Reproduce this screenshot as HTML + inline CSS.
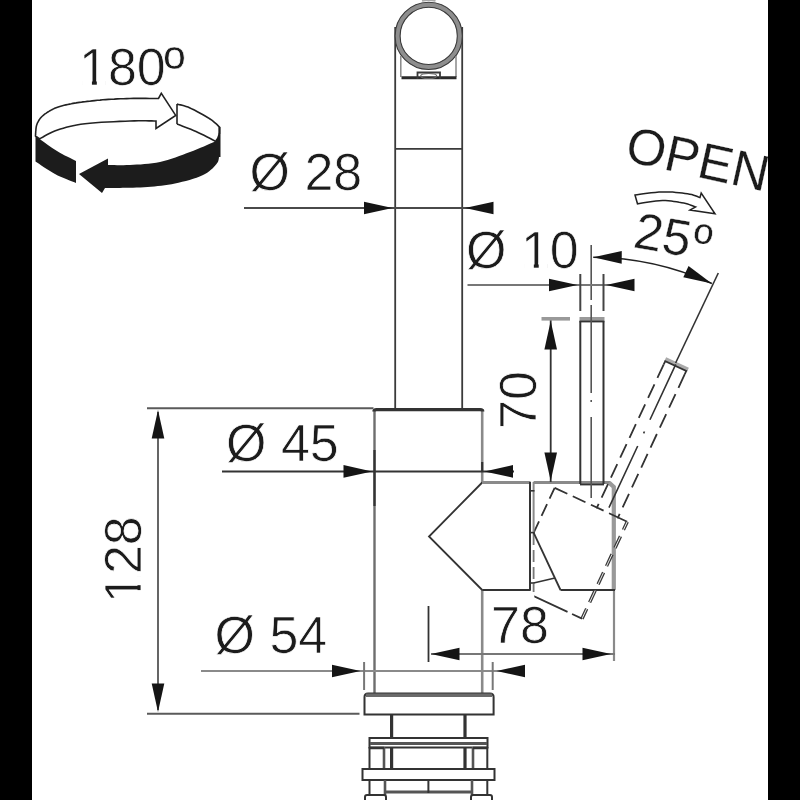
<!DOCTYPE html>
<html><head><meta charset="utf-8">
<style>
html,body{margin:0;padding:0;background:#fff;width:800px;height:800px;overflow:hidden}
svg{display:block}
text{font-family:"Liberation Sans",sans-serif;fill:#1c1c1c}
</style></head><body>
<svg width="800" height="800" viewBox="0 0 800 800">
<rect x="0" y="0" width="800" height="800" fill="#fff"/>
<path d="M35.5,133.0 37.5,136.0 37.6,136.2 37.5,136.3 37.5,136.4 37.5,136.6 37.6,136.9 38.0,137.4 38.6,138.0 39.6,138.8 41.0,139.9 42.8,141.2 44.9,142.8 47.2,144.5 49.7,146.2 52.2,147.9 54.6,149.5 57.0,151.0 59.4,152.4 62.1,153.9 64.8,155.4 67.6,156.8 70.2,158.1 72.5,159.3 74.5,160.2 76.0,161.0 76.0,183.0 74.4,182.3 72.2,181.5 69.6,180.4 66.7,179.3 63.7,178.0 60.6,176.7 57.7,175.4 55.0,174.0 52.4,172.5 49.6,170.8 46.7,169.0 43.9,167.2 41.3,165.4 39.0,163.8 37.0,162.5 35.5,161.5 Z" fill="#1c1c1c"/>
<path d="M108.0,158.4 108.0,165.0 109.6,165.0 111.8,165.1 114.3,165.1 117.1,165.2 120.2,165.2 123.4,165.2 126.7,165.1 130.0,165.0 133.4,164.8 136.9,164.6 140.7,164.4 144.5,164.1 148.4,163.8 152.3,163.3 156.2,162.7 160.0,162.0 163.8,161.1 167.6,160.0 171.5,158.8 175.4,157.4 179.2,156.1 182.9,154.7 186.5,153.3 190.0,152.0 193.5,150.7 197.0,149.3 200.5,147.8 203.9,146.4 207.0,145.0 209.8,143.8 212.2,142.8 214.0,142.0 217.0,138.0 219.5,131.0 219.5,150.0 219.5,150.4 219.5,151.0 219.5,151.7 219.5,152.5 219.5,153.3 219.5,154.2 219.4,155.1 219.2,156.0 219.0,156.9 218.9,157.8 218.8,158.8 218.6,159.8 218.3,160.9 217.9,162.0 217.2,163.1 216.3,164.3 215.2,165.6 213.9,166.9 212.5,168.4 210.9,169.8 209.2,171.3 207.2,172.7 205.0,174.0 202.5,175.3 199.7,176.5 196.6,177.7 193.2,178.8 189.6,179.9 185.9,180.9 182.2,181.8 178.5,182.7 175.0,183.5 171.6,184.2 168.1,184.8 164.7,185.3 161.2,185.7 157.8,186.1 154.4,186.4 150.9,186.7 147.5,187.0 144.0,187.2 140.3,187.4 136.6,187.6 133.0,187.7 129.4,187.7 126.0,187.8 122.8,187.8 120.0,187.9 117.4,188.0 115.0,188.0 112.8,188.0 110.8,188.0 109.0,188.0 107.4,188.0 106.1,188.0 105.0,188.0 102.0,193.0 79.0,174.0 Z" fill="#1c1c1c"/>
<path d="M35.5,136.0 35.5,135.6 35.5,135.1 35.6,134.6 35.6,133.9 35.6,133.2 35.7,132.5 35.7,131.7 35.8,131.0 35.9,130.3 35.9,129.5 36.0,128.7 36.1,127.8 36.2,127.0 36.4,126.1 36.6,125.3 36.9,124.4 37.2,123.5 37.6,122.7 38.1,121.8 38.6,120.9 39.1,120.0 39.7,119.1 40.3,118.3 41.0,117.5 41.7,116.7 42.5,116.0 43.3,115.3 44.1,114.6 45.0,113.9 45.9,113.3 46.9,112.6 47.9,112.0 48.9,111.4 50.0,110.7 51.1,110.1 52.3,109.5 53.5,108.9 54.7,108.3 56.1,107.7 57.5,107.2 59.0,106.7 60.7,106.2 62.4,105.7 64.1,105.3 65.9,104.9 67.8,104.5 69.6,104.1 71.3,103.8 73.0,103.4 74.6,103.1 76.1,102.9 77.7,102.6 79.4,102.4 81.1,102.2 83.0,101.9 85.0,101.7 87.2,101.4 89.6,101.2 92.1,100.9 94.6,100.6 97.3,100.3 100.0,100.1 102.8,99.8 105.6,99.6 108.4,99.4 111.3,99.2 114.3,99.1 117.3,98.9 120.4,98.8 123.5,98.7 126.7,98.6 130.0,98.5 133.6,98.4 137.5,98.4 141.6,98.4 145.8,98.4 149.7,98.5 153.3,98.5 156.3,98.5 158.5,98.5 161.3,93.4 175.7,115.4 156.0,128.5 156.0,121.0 154.1,121.0 151.8,120.9 149.0,120.9 145.8,120.8 142.3,120.8 138.4,120.8 134.3,120.9 130.0,121.0 125.2,121.2 119.7,121.4 113.7,121.7 107.6,122.0 101.4,122.3 95.5,122.7 89.9,123.2 85.0,123.7 80.7,124.3 76.7,125.0 73.0,125.7 69.6,126.5 66.3,127.3 63.3,128.2 60.4,129.1 57.5,130.0 54.7,131.0 51.9,132.2 49.3,133.5 46.8,134.8 44.6,136.0 42.6,137.2 40.9,138.1 39.6,138.8 Z" fill="#fff" stroke="#222" stroke-width="1.6" stroke-linejoin="miter"/>
<path d="M177.0,104.0 178.0,104.3 179.2,104.6 180.6,104.9 182.2,105.3 184.0,105.8 186.0,106.4 188.0,107.1 190.0,108.0 192.2,109.1 194.8,110.3 197.4,111.7 200.2,113.2 203.0,114.8 205.6,116.3 208.0,117.7 210.0,119.0 211.8,120.2 213.3,121.4 214.7,122.6 216.0,123.7 217.1,124.7 218.0,125.6 218.8,126.4 219.5,127.0 219.5,134.0 M177.0,124.0 178.5,124.6 180.4,125.3 182.7,126.2 185.3,127.2 188.0,128.2 190.8,129.3 193.5,130.4 196.0,131.5 198.5,132.7 201.2,134.0 204.0,135.3 206.7,136.7 209.3,138.0 211.6,139.2 213.5,140.3 215.0,141.0 M177,104 L177,124" fill="none" stroke="#222" stroke-width="1.6"/>
<line x1="219.5" y1="127" x2="219.5" y2="157" stroke="#1c1c1c" stroke-width="2"/>
<path d="M635.0,195.0 637.1,194.7 640.0,194.3 643.4,193.8 647.2,193.3 651.2,192.8 655.2,192.4 659.0,192.1 662.5,191.9 665.8,191.9 669.2,192.0 672.6,192.1 675.9,192.4 679.2,192.7 682.2,193.0 685.0,193.4 687.5,193.8 689.7,194.2 691.8,194.6 693.7,195.2 695.3,195.7 696.8,196.3 698.0,196.8 699.1,197.2 700.0,197.5 701.2,193.1 715.0,213.8 690.0,210.0 695.6,206.9 694.8,206.6 693.7,206.2 692.4,205.7 691.0,205.2 689.4,204.6 687.7,204.0 685.8,203.5 683.8,203.1 681.6,202.7 679.2,202.3 676.6,201.8 673.9,201.4 671.2,201.1 668.3,200.8 665.4,200.6 662.5,200.6 659.4,200.7 655.9,201.1 652.3,201.5 648.7,202.0 645.2,202.6 642.1,203.1 639.5,203.5 637.5,203.8 Z" fill="#fff" stroke="#222" stroke-width="1.5" stroke-linejoin="miter"/>
<g transform="translate(79,85)"><text x="0" y="0" font-size="52" fill="#1c1c1c" stroke="#fff" stroke-width="0.7">180<tspan font-size="58.2" dx="-2" dy="2.5">º</tspan></text><rect x="3.55" y="-4.66" width="9.37" height="5.26" fill="#fff"/><rect x="17.82" y="-4.66" width="8.84" height="5.26" fill="#fff"/></g>
<g fill="none" stroke="#3a3a3a" stroke-width="1.8">
  <line x1="395.2" y1="27" x2="395.2" y2="409"/>
  <line x1="462.2" y1="27" x2="462.2" y2="409"/>
  <line x1="395" y1="148.8" x2="462.5" y2="148.8"/>
  <circle cx="428.7" cy="35.9" r="31.1" stroke="#8e8e8e" stroke-width="5.2"/>
  <circle cx="428.7" cy="35.9" r="33.6" stroke="#3a3a3a" stroke-width="1.1"/>
  <circle cx="428.7" cy="35.9" r="28.6" stroke="#3a3a3a" stroke-width="1.1"/>
  <line x1="400.8" y1="56" x2="400.8" y2="77" stroke="#888" stroke-width="1.5"/>
  <line x1="456" y1="56" x2="456" y2="77" stroke="#888" stroke-width="1.5"/>
  <line x1="401.5" y1="77.8" x2="456.5" y2="77.8" stroke-width="3" stroke="#2a2a2a"/>
  <path d="M417.5 79 L417.5 72.5 L440 72.5 L440 79" stroke-width="1.8"/>
  <ellipse cx="428.7" cy="76" rx="8" ry="2.5" stroke="#666" stroke-width="1.2"/>
  <path d="M422 0.8 Q428.7 -0.8 435.5 0.8" stroke="#aaa" stroke-width="2"/>
</g>
<g transform="translate(249.5,190)"><text x="0" y="0" font-size="52" fill="#1c1c1c" stroke="#fff" stroke-width="0.7">Ø 28</text></g>
<line x1="244" y1="208" x2="395" y2="208" stroke="#4a4a4a" stroke-width="2" />
<line x1="462" y1="208" x2="493" y2="208" stroke="#4a4a4a" stroke-width="2" />
<line x1="395" y1="208" x2="462" y2="208" stroke="#4a4a4a" stroke-width="2" />
<path d="M392.50 208.00 L364.00 214.30 L364.00 201.70 Z" fill="#151515"/>
<path d="M465.00 208.00 L493.50 201.70 L493.50 214.30 Z" fill="#151515"/>
<line x1="374.5" y1="409" x2="374.5" y2="693" stroke="#6e6e6e" stroke-width="2.4" />
<line x1="374.5" y1="450" x2="374.5" y2="506" stroke="#333" stroke-width="2.2" />
<line x1="482.2" y1="409" x2="482.2" y2="483" stroke="#8a8a8a" stroke-width="2.6" />
<line x1="482.2" y1="590" x2="482.2" y2="693" stroke="#8a8a8a" stroke-width="2.6" />
<line x1="482.2" y1="462" x2="482.2" y2="471" stroke="#333" stroke-width="2.2" />
<path d="M374.0 411.5 Q374.0 409.6 376.5 409.6 L480.2 409.6 Q482.7 409.6 482.7 411.5" fill="none" stroke="#333" stroke-width="3.4"/>
<line x1="147" y1="408.3" x2="373.5" y2="408.3" stroke="#5a5a5a" stroke-width="2" />
<polyline points="482.2,482.5 429,536.5 482.2,590" fill="none" stroke="#333" stroke-width="1.8"/>
<line x1="482.2" y1="482.6" x2="530.5" y2="482.6" stroke="#8a8a8a" stroke-width="3" />
<line x1="482.2" y1="590" x2="530.5" y2="590" stroke="#333" stroke-width="2" />
<line x1="530" y1="482" x2="530" y2="590.5" stroke="#333" stroke-width="2" />
<line x1="533.6" y1="482" x2="533.6" y2="533" stroke="#8a8a8a" stroke-width="2" />
<line x1="533.6" y1="533" x2="533.6" y2="592" stroke="#777" stroke-width="1.8" stroke-dasharray="12 5"/>
<line x1="530" y1="490.8" x2="534.5" y2="490.8" stroke="#333" stroke-width="1.6" />
<line x1="530" y1="532.6" x2="534.5" y2="532.6" stroke="#333" stroke-width="1.6" />
<line x1="530" y1="583" x2="534.5" y2="583" stroke="#333" stroke-width="1.6" />
<line x1="533.6" y1="482.6" x2="610" y2="482.6" stroke="#8a8a8a" stroke-width="3" />
<path d="M609 482.6 L613.8 487 L613.8 590" fill="none" stroke="#999" stroke-width="4.2"/>
<line x1="614" y1="590" x2="614" y2="661" stroke="#8a8a8a" stroke-width="2.2" />
<line x1="560.5" y1="590" x2="615" y2="590" stroke="#333" stroke-width="2" />
<line x1="533.6" y1="532.6" x2="560.5" y2="590" stroke="#333" stroke-width="1.8" />
<line x1="533.6" y1="583" x2="555" y2="578" stroke="#333" stroke-width="1.6" />
<line x1="580.3" y1="321" x2="580.3" y2="484" stroke="#333" stroke-width="2" />
<line x1="603.5" y1="321" x2="603.5" y2="484" stroke="#333" stroke-width="2" />
<rect x="579.5" y="317" width="25" height="4.5" fill="#999"/>
<line x1="579.5" y1="321.5" x2="604.3" y2="321.5" stroke="#333" stroke-width="1.8" />
<line x1="580" y1="484.5" x2="604" y2="484.5" stroke="#333" stroke-width="1.8" />
<path d="M591.2 245 V300 M591.2 305 V393 M591.2 400 V402 M591.2 417 V498" stroke="#555" stroke-width="1.6" fill="none"/>
<defs><clipPath id="cr"><rect x="534.3" y="250" width="200" height="400"/></clipPath></defs>
<g clip-path="url(#cr)"><g transform="rotate(25 533.2 532.9)" fill="none" stroke="#333" stroke-width="1.8">
<line x1="580.3" y1="325" x2="580.3" y2="484" stroke-dasharray="15 7"/>
<line x1="603.5" y1="325" x2="603.5" y2="484" stroke-dasharray="15 7"/>
<rect x="579.5" y="317.5" width="25" height="4" fill="#aaa" stroke="none"/>
<path d="M580.3 325 V321.5 H603.5 V325" stroke="#333" stroke-width="1.8"/>
<path d="M591.2 320 V381 M591.2 394 V396 M591.2 410 V478" stroke="#333" stroke-width="1.6"/>
<path d="M533.6 483 H613.7" stroke-dasharray="14 6 14 6 14 6 22"/>
<path d="M613.7 483 V590" stroke="#3a3a3a" stroke-width="3.4" stroke-dasharray="9 7 13 7 13 7 13 7 13 7 13 7"/>
<path d="M613.7 483 V590" stroke="#fff" stroke-width="0.8" stroke-dasharray="9 7 13 7 13 7 13 7 13 7 13 7"/>
<path d="M613.7 590 H533.6" stroke-dasharray="11 5 100"/>
<path d="M533.6 590 V483" stroke-dasharray="13 6"/>
</g></g>
<line x1="675.6" y1="363" x2="718.3" y2="273" stroke="#333" stroke-width="1.6" />
<g transform="translate(226,460.5)"><text x="0" y="0" font-size="52" fill="#1c1c1c" stroke="#fff" stroke-width="0.7">Ø 45</text></g>
<line x1="222" y1="471.4" x2="514" y2="471.4" stroke="#333" stroke-width="2" />
<path d="M372.00 471.40 L343.50 477.70 L343.50 465.10 Z" fill="#151515"/>
<path d="M484.50 471.40 L513.00 465.10 L513.00 477.70 Z" fill="#151515"/>
<g transform="translate(466,267.5)"><text x="0" y="0" font-size="52" fill="#1c1c1c" stroke="#fff" stroke-width="0.7">Ø 10</text><rect x="58.45" y="-4.66" width="9.37" height="5.26" fill="#fff"/><rect x="72.72" y="-4.66" width="8.84" height="5.26" fill="#fff"/></g>
<line x1="467.5" y1="285" x2="634" y2="285" stroke="#777" stroke-width="2" />
<line x1="580.3" y1="274" x2="580.3" y2="311" stroke="#444" stroke-width="2" />
<line x1="603.5" y1="274" x2="603.5" y2="311" stroke="#444" stroke-width="2" />
<path d="M577.50 285.00 L549.00 291.30 L549.00 278.70 Z" fill="#151515"/>
<path d="M606.00 285.00 L634.50 278.70 L634.50 291.30 Z" fill="#151515"/>
<line x1="550.7" y1="320" x2="550.7" y2="482" stroke="#333" stroke-width="1.8" />
<line x1="541.5" y1="318.8" x2="570" y2="318.8" stroke="#999" stroke-width="3.6" />
<path d="M550.70 321.00 L557.00 349.50 L544.40 349.50 Z" fill="#151515"/>
<path d="M550.70 481.00 L544.40 452.50 L557.00 452.50 Z" fill="#151515"/>
<g transform="translate(535.5,429) rotate(-90)"><text x="0" y="0" font-size="52" fill="#1c1c1c" stroke="#fff" stroke-width="0.7">70</text></g>
<path d="M593.22 257.21 A289.8 289.8 0 0 1 711.84 283.50" fill="none" stroke="#222" stroke-width="1.6"/>
<path d="M593.22 257.21 L621.77 251.11 L621.68 263.71 Z" fill="#151515"/>
<path d="M711.84 283.50 L683.30 277.37 L688.55 265.91 Z" fill="#151515"/>
<g transform="translate(632,247) rotate(10)"><text x="0" y="0" font-size="51" fill="#1c1c1c" stroke="#fff" stroke-width="0.4">25<tspan font-size="52.0" dx="2" dy="1.3">º</tspan></text></g>
<g transform="translate(623.5,160.5) rotate(12.5)"><text x="0" y="0" font-size="51" fill="#1c1c1c" stroke="#fff" stroke-width="0.2">OPEN</text></g>
<line x1="147" y1="713.8" x2="359.5" y2="713.8" stroke="#5a5a5a" stroke-width="2" />
<line x1="158" y1="412" x2="158" y2="710" stroke="#555" stroke-width="1.8" />
<path d="M158.00 410.00 L164.30 438.50 L151.70 438.50 Z" fill="#151515"/>
<path d="M158.00 712.00 L151.70 683.50 L164.30 683.50 Z" fill="#151515"/>
<g transform="translate(141,603) rotate(-90)"><text x="0" y="0" font-size="52" fill="#1c1c1c" stroke="#fff" stroke-width="0.7">128</text><rect x="3.55" y="-4.66" width="9.37" height="5.26" fill="#fff"/><rect x="17.82" y="-4.66" width="8.84" height="5.26" fill="#fff"/></g>
<g transform="translate(214.5,653)"><text x="0" y="0" font-size="52" fill="#1c1c1c" stroke="#fff" stroke-width="0.7">Ø 54</text></g>
<line x1="201" y1="671" x2="525" y2="671" stroke="#8a8a8a" stroke-width="2" />
<line x1="364.1" y1="662" x2="364.1" y2="690" stroke="#777" stroke-width="2" />
<line x1="492.7" y1="662" x2="492.7" y2="690" stroke="#777" stroke-width="2" />
<path d="M360.50 671.00 L332.00 677.30 L332.00 664.70 Z" fill="#151515"/>
<path d="M496.50 671.00 L525.00 664.70 L525.00 677.30 Z" fill="#151515"/>
<g transform="translate(491,643)"><text x="0" y="0" font-size="52" fill="#1c1c1c" stroke="#fff" stroke-width="0.7">78</text></g>
<line x1="428.5" y1="606" x2="428.5" y2="662" stroke="#333" stroke-width="1.8" />
<line x1="431" y1="654" x2="615" y2="654" stroke="#777" stroke-width="2" />
<path d="M431.00 654.00 L459.50 647.70 L459.50 660.30 Z" fill="#151515"/>
<path d="M611.00 654.00 L582.50 660.30 L582.50 647.70 Z" fill="#151515"/>
<g fill="none" stroke="#333" stroke-width="2">
  <path d="M364.5 714.5 V697 Q364.5 693.5 368 693.5 H490 Q493.6 693.5 493.6 697 V714.5 Z" fill="#fff"/>
  <line x1="366" y1="695.2" x2="492" y2="695.2" stroke-width="3.5" stroke="#6a6a6a"/>
  <line x1="391.6" y1="715" x2="391.6" y2="769" stroke-width="3.2"/>
  <line x1="465" y1="715" x2="465" y2="769" stroke-width="3.2"/>
  <rect x="369.5" y="738" width="118" height="9.5" fill="#fff"/>
  <line x1="370" y1="743.5" x2="487" y2="743.5" stroke="#555" stroke-width="3"/>
  <line x1="369.5" y1="747" x2="369.5" y2="769"/>
  <line x1="384" y1="747" x2="384" y2="769" stroke="#555" stroke-width="2.6"/>
  <line x1="473" y1="747" x2="473" y2="769" stroke="#555" stroke-width="2.6"/>
  <line x1="487.3" y1="747" x2="487.3" y2="769"/>
  <line x1="370" y1="748" x2="384" y2="748" stroke-width="2.5"/>
  <line x1="473" y1="748" x2="487" y2="748" stroke-width="2.5"/>
  <rect x="362.5" y="769" width="132" height="11" fill="#fff"/>
  <line x1="369.5" y1="780" x2="369.5" y2="795"/>
  <line x1="385" y1="780" x2="385" y2="795" stroke="#555" stroke-width="2.6"/>
  <line x1="472" y1="780" x2="472" y2="795" stroke="#555" stroke-width="2.6"/>
  <line x1="487.3" y1="780" x2="487.3" y2="795"/>
  <line x1="385" y1="792" x2="472" y2="792" stroke-width="3" stroke="#555"/>
  <line x1="428.4" y1="780" x2="428.4" y2="793"/>
  <rect x="365" y="795" width="21" height="8" rx="2" fill="#fff" stroke-width="2"/>
  <rect x="471" y="795" width="21" height="8" rx="2" fill="#fff" stroke-width="2"/>
</g>
<rect x="0" y="0" width="32" height="800" fill="#000"/>
<rect x="768" y="0" width="32" height="800" fill="#000"/>
</svg>
</body></html>
